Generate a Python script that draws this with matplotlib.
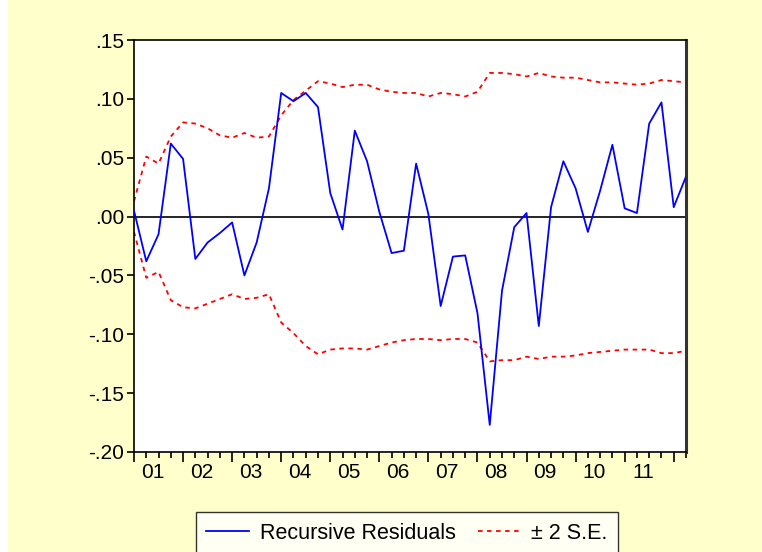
import numpy as np
import matplotlib
matplotlib.use("Agg")
import matplotlib.pyplot as plt
from matplotlib.ticker import FuncFormatter

# quarterly sample 2001Q1 .. 2012Q2
years = ["01", "02", "03", "04", "05", "06", "07", "08", "09", "10", "11"]

resid = [0.005, -0.038, -0.015, 0.062, 0.049, -0.036, -0.022, -0.014, -0.005, -0.050,
         -0.022, 0.024, 0.105, 0.098, 0.105, 0.093, 0.020, -0.011, 0.073, 0.047,
         0.004, -0.031, -0.029, 0.045, 0.002, -0.076, -0.034, -0.033, -0.082, -0.177,
         -0.063, -0.009, 0.003, -0.093, 0.008, 0.047, 0.024, -0.013, 0.022, 0.061,
         0.007, 0.003, 0.079, 0.097, 0.008, 0.034]

upper = [0.013, 0.051, 0.045, 0.068, 0.080, 0.079, 0.075, 0.069, 0.067, 0.071,
         0.067, 0.068, 0.086, 0.099, 0.107, 0.115, 0.113, 0.110, 0.112, 0.112,
         0.108, 0.106, 0.105, 0.105, 0.102, 0.105, 0.104, 0.102, 0.106, 0.122,
         0.122, 0.121, 0.119, 0.122, 0.119, 0.118, 0.118, 0.116, 0.114, 0.114,
         0.113, 0.112, 0.113, 0.116, 0.115, 0.114]

lower = [-0.013, -0.052, -0.047, -0.071, -0.077, -0.078, -0.074, -0.070, -0.066, -0.070,
         -0.069, -0.066, -0.090, -0.099, -0.110, -0.117, -0.113, -0.112, -0.112, -0.113,
         -0.110, -0.107, -0.105, -0.104, -0.104, -0.105, -0.104, -0.104, -0.107, -0.123,
         -0.122, -0.122, -0.119, -0.121, -0.119, -0.119, -0.118, -0.116, -0.115, -0.114,
         -0.113, -0.113, -0.113, -0.116, -0.116, -0.114]

plt.rcParams['font.family'] = ['Liberation Sans', 'DejaVu Sans']

bg = '#FFFFCC'
fig = plt.figure(figsize=(7.62, 5.52), dpi=100, facecolor=bg)
ax = fig.add_axes([134 / 762, 1 - 452 / 552, 552 / 762, 412 / 552])
ax.set_facecolor('white')

x = np.arange(len(resid))
ax.axhline(0, color='black', lw=1.2, zorder=1)
ax.plot(x, resid, color='#0000FF', lw=1.3, label='Recursive Residuals', zorder=3)
ax.plot(x, upper, color='#FF0000', lw=1.3, ls=(0, (2.5, 2.5)), label='± 2 S.E.', zorder=2)
ax.plot(x, lower, color='#FF0000', lw=1.3, ls=(0, (2.5, 2.5)), zorder=2)

ax.set_xlim(0, len(resid) - 1)
ax.set_ylim(-0.20, 0.15)
ax.set_yticks(np.arange(-0.20, 0.151, 0.05))
ax.yaxis.set_major_formatter(FuncFormatter(
    lambda v, p: ('-' if v < -1e-9 else '') + ('%.2f' % abs(v))[1:]))

ax.set_xticks(np.arange(0, len(resid), 4))
ax.set_xticks(x, minor=True)
ax.set_xticklabels([])
ax.tick_params(axis='x', which='major', length=7, width=1.2, direction='out')
ax.tick_params(axis='x', which='minor', length=4.5, width=1.2, direction='out')
ax.tick_params(axis='y', length=5, width=1.2, direction='out', labelsize=15, pad=2)

for i, yr in enumerate(years):
    ax.annotate(yr, xy=(i * 4 + 1.5, 0), xycoords=('data', 'axes fraction'),
                xytext=(0, -8), textcoords='offset points',
                ha='center', va='top', fontsize=15)

for s in ['top', 'left', 'bottom']:
    ax.spines[s].set_linewidth(1.2)
ax.spines['right'].set_linewidth(2.2)
ax.spines['right'].set_color('#333333')

fig.patches.append(plt.Rectangle((0, 0), 8 / 762, 1, transform=fig.transFigure,
                                 facecolor='white', edgecolor='none'))

leg = fig.legend(loc='upper center', bbox_to_anchor=(407 / 762, 1 - 501 / 552),
                 ncol=2, fontsize=15.5, frameon=True, fancybox=False,
                 edgecolor='black', handlelength=2.0, columnspacing=1.0,
                 borderpad=0.5, handletextpad=0.5)
leg.get_frame().set_linewidth(1.0)

fig.savefig('out.png', dpi=100, facecolor=bg)
